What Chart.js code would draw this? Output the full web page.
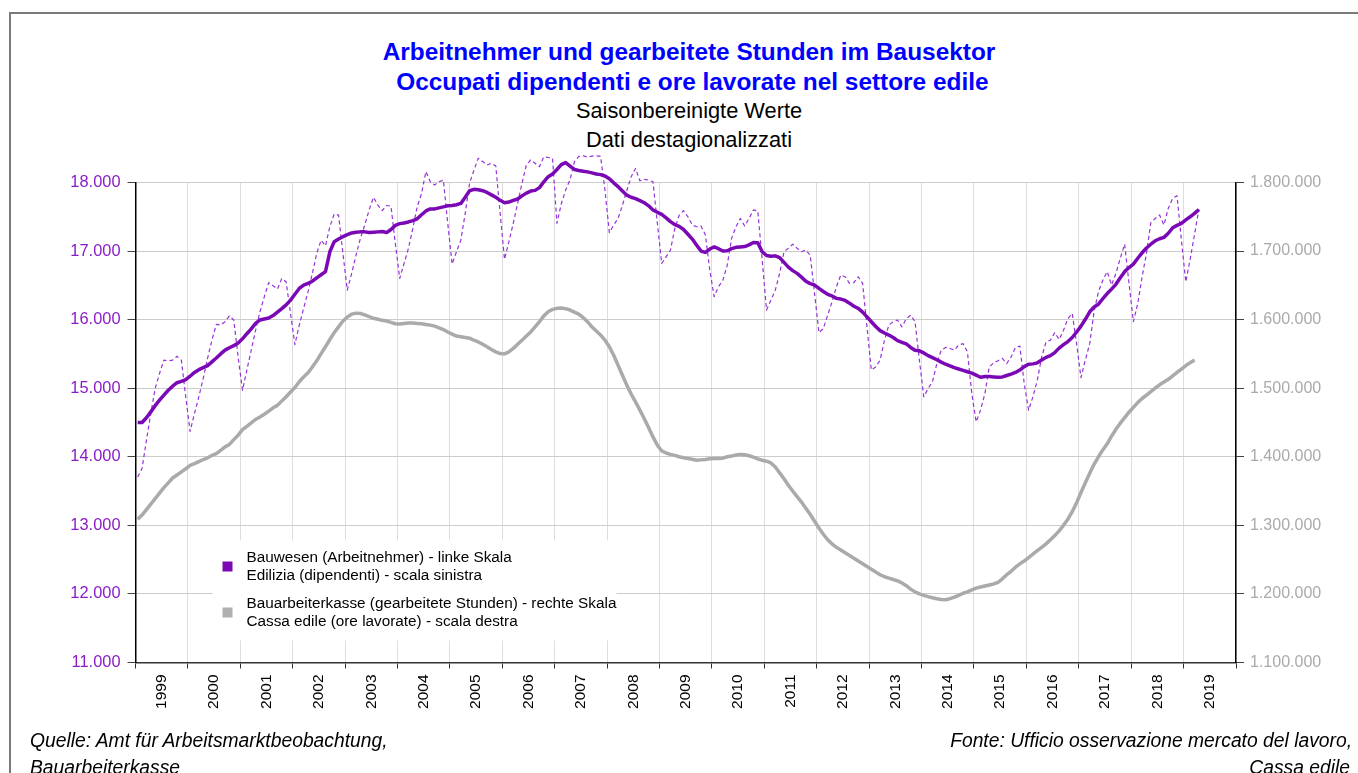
<!DOCTYPE html>
<html>
<head>
<meta charset="utf-8">
<title>Arbeitnehmer und gearbeitete Stunden im Bausektor</title>
<script src="https://cdn.jsdelivr.net/npm/chart.js@4/dist/chart.umd.min.js"></script>
<style>
  html, body { margin: 0; padding: 0; background: #fff; }
  body { width: 1358px; height: 773px; position: relative; overflow: hidden; font-family: 'Liberation Sans', Arial, sans-serif; }
  #frame { position: absolute; left: 9px; top: 12px; width: 1400px; height: 800px; border-left: 2px solid #7a7a7a; border-top: 2px solid #7a7a7a; }
  .t { position: absolute; left: 0; width: 1378px; text-align: center; white-space: pre; }
  .title { font-weight: bold; font-size: 24.4px; line-height: 24px; color: #0000ff; }
  .sub { font-size: 21.8px; line-height: 22px; color: #000; }
  .foot { position: absolute; font-style: italic; font-size: 19.3px; line-height: 19px; color: #000; white-space: nowrap; }
  canvas { position: absolute; left: 0; top: 0; }
</style>
</head>
<body>
<div id="frame"></div>
<div class="t title" style="top:40px">Arbeitnehmer und gearbeitete Stunden im Bausektor</div>
<div class="t title" style="top:70px"> Occupati dipendenti e ore lavorate nel settore edile</div>
<div class="t sub" style="top:100px">Saisonbereinigte Werte</div>
<div class="t sub" style="top:129px">Dati destagionalizzati</div>
<canvas id="chart" width="1358" height="773" style="width:1358px;height:773px"></canvas>
<div class="foot" style="left:30px;top:731px">Quelle: Amt für Arbeitsmarktbeobachtung,</div>
<div class="foot" style="left:30px;top:758px">Bauarbeiterkasse</div>
<div class="foot" style="right:6px;top:731px;text-align:right">Fonte: Ufficio osservazione mercato del lavoro,</div>
<div class="foot" style="right:8px;top:758px;text-align:right">Cassa edile</div>
<script>
// one label per year, monthly data starting January 1999
const years = ['1999', '2000', '2001', '2002', '2003', '2004', '2005', '2006', '2007', '2008', '2009',
  '2010', '2011', '2012', '2013', '2014', '2015', '2016', '2017', '2018', '2019'];

// Bauwesen (Arbeitnehmer), trend - left scale
const employeesTrend = [
  14500, 14500, 14570, 14655, 14745, 14825, 14900, 14970, 15030, 15080, 15100, 15125,
  15175, 15230, 15270, 15300, 15330, 15385, 15440, 15500, 15555, 15590, 15620, 15660,
  15720, 15795, 15865, 15945, 15995, 16010, 16025, 16060, 16110, 16160, 16215, 16285,
  16370, 16455, 16505, 16530, 16560, 16610, 16655, 16700, 16990, 17135, 17175, 17210,
  17240, 17265, 17275, 17280, 17280, 17270, 17275, 17280, 17285, 17270, 17315, 17375,
  17400, 17410, 17425, 17445, 17470, 17530, 17585, 17615, 17615, 17630, 17645, 17660,
  17665, 17675, 17695, 17785, 17880, 17900, 17895, 17880, 17855, 17820, 17785, 17740,
  17705, 17715, 17740, 17760, 17805, 17845, 17875, 17885, 17925, 18010, 18085, 18125,
  18190, 18260, 18290, 18240, 18190, 18175, 18165, 18155, 18140, 18125, 18115, 18095,
  18055, 17995, 17940, 17875, 17815, 17785, 17765, 17735, 17705, 17660, 17600, 17565,
  17535, 17485, 17430, 17385, 17360, 17315, 17245, 17175, 17085, 17000, 16980, 17030,
  17060, 17035, 17000, 17005, 17035, 17055, 17060, 17065, 17090, 17125, 17120, 16990,
  16935, 16925, 16930, 16905, 16835, 16765, 16715, 16675, 16620, 16560, 16525, 16505,
  16455, 16410, 16370, 16345, 16310, 16300, 16280, 16240, 16195, 16165, 16110, 16040,
  15970, 15900, 15840, 15805, 15775, 15740, 15695, 15670, 15645, 15595, 15555, 15545,
  15515, 15475, 15445, 15415, 15380, 15350, 15325, 15300, 15280, 15260, 15240, 15220,
  15190, 15160, 15170, 15170, 15165, 15160, 15165, 15185, 15205, 15230, 15265, 15315,
  15350, 15355, 15370, 15410, 15450, 15475, 15520, 15585, 15635, 15680, 15740, 15820,
  15905, 16005, 16115, 16185, 16225, 16305, 16380, 16445, 16515, 16610, 16700, 16760,
  16810, 16895, 16975, 17045, 17100, 17150, 17180, 17200, 17260, 17340, 17375, 17405,
  17455, 17500, 17550, 17605
];

// Bauwesen (Arbeitnehmer), monthly values - left scale (dashed)
const employeesRaw = [
  13705, 13830, 14240, 14630, 14995, 15215, 15410, 15400, 15410, 15465, 15410, 14875,
  14370, 14630, 14875, 15140, 15435, 15700, 15930, 15920, 15970, 16055, 15995, 15455,
  14970, 15265, 15555, 15845, 16115, 16335, 16540, 16495, 16445, 16600, 16550, 16090,
  15635, 15920, 16165, 16405, 16675, 16965, 17160, 17075, 17355, 17540, 17525, 16965,
  16430, 16675, 16940, 17185, 17380, 17600, 17785, 17670, 17590, 17665, 17655, 17110,
  16600, 16820, 17040, 17330, 17645, 17840, 18160, 18010, 17965, 18010, 18035, 17405,
  16810, 16990, 17160, 17550, 17990, 18180, 18355, 18305, 18255, 18280, 18240, 17550,
  16880, 17135, 17405, 17695, 17990, 18255, 18330, 18280, 18230, 18375, 18365, 18350,
  17405, 17690, 17890, 18040, 18300, 18380, 18390, 18370, 18385, 18390, 18380, 17890,
  17270, 17380, 17475, 17670, 17880, 18085, 18205, 18025, 18045, 18035, 18010, 17405,
  16820, 16915, 17015, 17330, 17525, 17590, 17500, 17380, 17355, 17365, 17235, 16725,
  16335, 16480, 16575, 16795, 17185, 17355, 17475, 17365, 17475, 17600, 17585, 16870,
  16140, 16285, 16430, 16675, 16990, 17040, 17100, 17040, 16990, 17015, 16940, 16380,
  15810, 15870, 16065, 16260, 16480, 16650, 16625, 16530, 16540, 16625, 16530, 15895,
  15265, 15310, 15410, 15700, 15920, 15970, 15995, 15895, 16015, 16065, 15970, 15410,
  14875, 14995, 15095, 15360, 15555, 15595, 15580, 15555, 15630, 15650, 15530, 14920,
  14510, 14680, 14920, 15310, 15370, 15400, 15435, 15360, 15455, 15595, 15615, 15070,
  14680, 14875, 15115, 15455, 15675, 15700, 15810, 15710, 15845, 16015, 16090, 15650,
  15155, 15410, 15650, 16115, 16405, 16575, 16700, 16505, 16675, 16895, 17100, 16530,
  15970, 16235, 16625, 16965, 17415, 17475, 17525, 17380, 17625, 17770, 17805, 17160,
  16550, 16880, 17240, 17610
];

// Bauarbeiterkasse (gearbeitete Stunden) - right scale
const workedHours = [
  1309000, 1315000, 1323000, 1331000, 1339000, 1347000, 1355000, 1362000, 1369000, 1373500, 1378000, 1382500,
  1387500, 1390000, 1393000, 1396000, 1398500, 1402000, 1404500, 1409500, 1414500, 1418000, 1425000, 1431500,
  1439500, 1444500, 1449500, 1454500, 1458000, 1462000, 1466500, 1471500, 1475000, 1481500, 1487500, 1494500,
  1501000, 1509500, 1516500, 1522500, 1531000, 1540000, 1550500, 1560500, 1571000, 1581000, 1589500, 1598000,
  1604000, 1608000, 1609500, 1609000, 1607000, 1604500, 1602000, 1600500, 1599000, 1598000, 1596000, 1594000,
  1593500, 1594500, 1595000, 1595000, 1594500, 1594000, 1593000, 1592000, 1590500, 1588000, 1585500, 1582000,
  1579000, 1576000, 1575000, 1574000, 1573000, 1570000, 1567500, 1564000, 1560500, 1556500, 1553000, 1550500,
  1550000, 1553000, 1558000, 1564000, 1570000, 1576000, 1582000, 1589500, 1597000, 1605500, 1611500, 1615000,
  1616500, 1617000, 1616000, 1614000, 1611000, 1608000, 1603000, 1597000, 1589500, 1583500, 1577500, 1570000,
  1560500, 1548000, 1533500, 1519000, 1504500, 1491500, 1480000, 1468000, 1455500, 1442500, 1429000, 1417000,
  1408500, 1405500, 1403500, 1402000, 1400000, 1398500, 1397500, 1396500, 1395000, 1395500, 1396000, 1397000,
  1397500, 1397500, 1398000, 1400000, 1401000, 1402500, 1403500, 1403000, 1401500, 1399500, 1397000, 1395000,
  1393500, 1391000, 1385000, 1376500, 1368000, 1358500, 1350000, 1342000, 1334000, 1325000, 1316000, 1306000,
  1296000, 1287000, 1279000, 1273000, 1268000, 1264000, 1260000, 1256000, 1252000, 1248000, 1244000, 1240000,
  1236000, 1232000, 1228000, 1225000, 1223000, 1221000, 1219000, 1216000, 1212000, 1207000, 1203000, 1200000,
  1198000, 1196000, 1194500, 1193000, 1192000, 1191500, 1193000, 1195500, 1198000, 1201000, 1203000, 1206000,
  1208500, 1210000, 1211500, 1213000, 1214500, 1217000, 1222000, 1228000, 1233000, 1239000, 1244000, 1248000,
  1253000, 1258000, 1263000, 1268000, 1273000, 1279000, 1285000, 1292000, 1300000, 1309000, 1320000, 1333000,
  1348000, 1362000, 1376000, 1389000, 1400000, 1410000, 1419000, 1430000, 1440000, 1449000, 1457000, 1465000,
  1472000, 1479000, 1485000, 1490000, 1495000, 1500000, 1505000, 1509000, 1513000, 1518000, 1523000, 1528000,
  1533000, 1537000, 1541000
];

const legendLabels = [
  ['Bauwesen (Arbeitnehmer) - linke Skala', 'Edilizia (dipendenti) - scala sinistra'],
  ['Bauarbeiterkasse (gearbeitete Stunden) - rechte Skala', 'Cassa edile (ore lavorate) - scala destra']
];
const legendColors = ['#7a08b4', '#b0b0b0'];

// months sit in the middle of their slot, 12 slots per year
const monthPos = employeesTrend.map((_, i) => i + 0.5);

const thousands = v => String(Math.round(v)).replace(/\B(?=(\d{3})+(?!\d))/g, '.');

// legend box drawn inside the plot, over the grid but under the lines
const legendBox = {
  id: 'legendBox',
  beforeDatasetsDraw(chart) {
    const { ctx, chartArea } = chart;
    const x0 = chartArea.left + 77;
    const y0 = chartArea.bottom - 122;
    ctx.save();
    ctx.fillStyle = '#ffffff';
    ctx.fillRect(x0, y0, 404, 100);
    ctx.font = '15.3px "Liberation Sans", Arial, sans-serif';
    ctx.textBaseline = 'middle';
    ctx.textAlign = 'left';
    legendLabels.forEach((lines, k) => {
      const cy = y0 + 26 + k * 46;
      ctx.fillStyle = legendColors[k];
      ctx.fillRect(x0 + 10, cy - 5, 10, 10);
      ctx.fillStyle = '#000000';
      lines.forEach((t, j) => ctx.fillText(t, x0 + 34, cy - 9 + j * 18));
    });
    ctx.restore();
  }
};

Chart.defaults.font.family = "'Liberation Sans', Arial, sans-serif";

new Chart(document.getElementById('chart').getContext('2d'), {
  type: 'line',
  data: {
    labels: monthPos,
    datasets: [
      {
        label: legendLabels[0][0],
        data: employeesTrend,
        yAxisID: 'y',
        borderColor: '#7a08b4',
        borderWidth: 3.5,
        clip: false,
        order: 0
      },
      {
        label: 'Bauwesen (Monatswerte)',
        data: employeesRaw,
        yAxisID: 'y',
        borderColor: '#9633d6',
        borderWidth: 1.2,
        borderDash: [4, 3],
        clip: false,
        order: 1
      },
      {
        label: legendLabels[1][0],
        data: workedHours,
        yAxisID: 'y1',
        borderColor: '#aaaaaa',
        borderWidth: 3.5,
        clip: false,
        order: 2
      }
    ]
  },
  options: {
    responsive: false,
    animation: false,
    layout: { padding: { top: 182.5, left: 0, right: 0, bottom: 0 } },
    elements: {
      point: { radius: 0 },
      line: { tension: 0, fill: false, borderJoinStyle: 'round' }
    },
    plugins: {
      legend: { display: false },
      tooltip: { enabled: false }
    },
    scales: {
      x: {
        type: 'linear',
        min: 0,
        max: 252,
        afterFit: s => { s.height = 110.5; },
        ticks: {
          stepSize: 12,
          autoSkip: false,
          minRotation: 90,
          maxRotation: 90,
          labelOffset: 26.2,
          padding: 6,
          color: '#000000',
          font: { size: 15.5 },
          callback: (v, i) => years[i] || ''
        },
        grid: { color: '#dddddd', tickColor: '#333333', tickLength: 6 },
        border: { color: '#333333', width: 1.5 }
      },
      y: {
        position: 'left',
        min: 11000,
        max: 18000,
        afterFit: s => { s.width = 135.5; },
        ticks: { stepSize: 1000, color: '#8a1cc8', font: { size: 16.4 }, padding: 7, callback: thousands },
        grid: { color: '#cccccc', tickColor: '#444444', tickLength: 8 },
        border: { color: '#000000', width: 1.5 }
      },
      y1: {
        position: 'right',
        min: 1100000,
        max: 1800000,
        afterFit: s => { s.width = 122; },
        ticks: { stepSize: 100000, color: '#aaaaaa', font: { size: 16 }, padding: 6, callback: thousands },
        grid: { drawOnChartArea: false, tickColor: '#444444', tickLength: 8 },
        border: { color: '#000000', width: 1.5 }
      }
    }
  },
  plugins: [legendBox]
});
</script>
</body>
</html>
